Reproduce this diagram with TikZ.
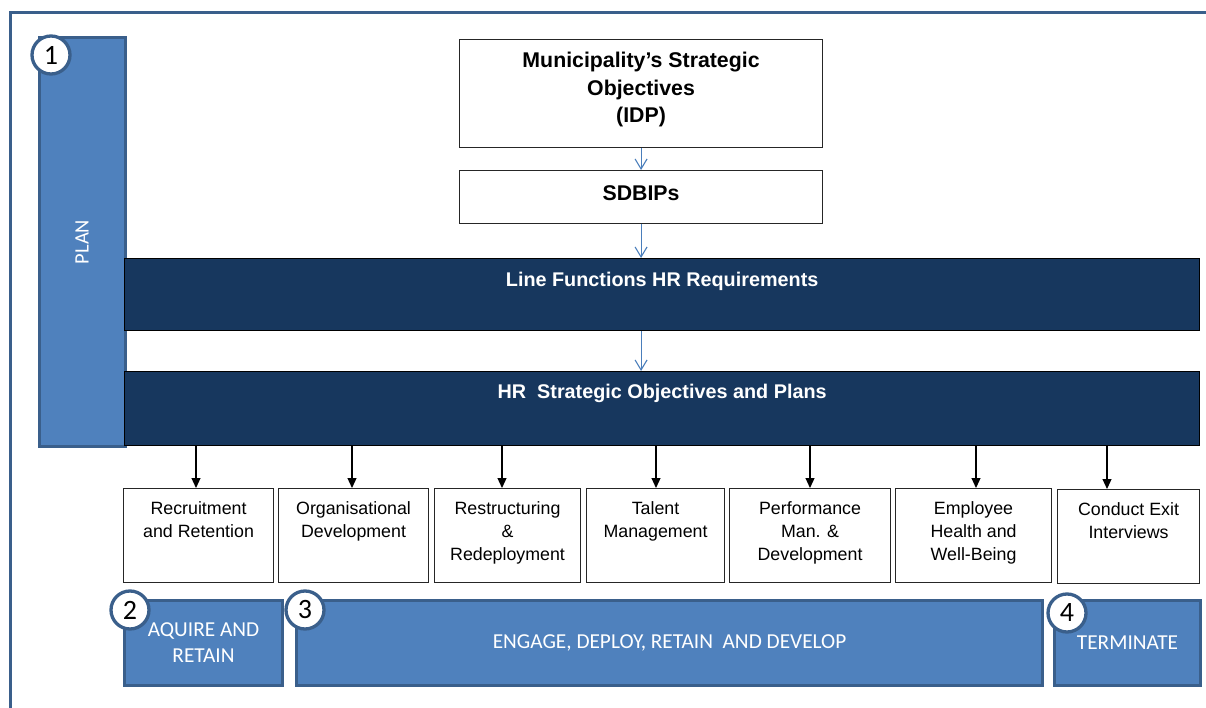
\documentclass[tikz,border=0pt]{standalone}
\usepackage{fontspec}
\newfontfamily\arialf{Liberation Sans}
\newfontfamily\calf{Carlito}
\usetikzlibrary{arrows.meta}
\definecolor{bfill}{HTML}{4F81BD}
\definecolor{bline}{HTML}{3A5F8B}
\definecolor{navy}{HTML}{17375E}
\definecolor{abl}{HTML}{4A7EBB}
\newcommand{\tbox}[4]{\parbox[c][#1][t]{#2}{\centering\vspace*{#3}#4}}
\begin{document}
\begin{tikzpicture}[x=1pt,y=-1pt,
  sbox/.style={draw=black!85, line width=1.1pt, fill=white, inner sep=0pt, anchor=north west, font=\arialf\fontsize{17.8}{23}\selectfont},
  tbx/.style={draw=black!85, line width=1.1pt, fill=white, inner sep=0pt, anchor=north west, font=\arialf\bfseries\fontsize{21.3}{27.5}\selectfont},
  bar/.style={draw=black, line width=1.3pt, fill=navy, text=white, inner sep=0pt, anchor=north west, font=\arialf\bfseries\fontsize{19.8}{26}\selectfont},
  bbox/.style={draw=bline, line width=3pt, fill=bfill, text=white, inner sep=0pt, anchor=north west, align=center, font=\calf\fontsize{21.3}{26}\selectfont},
  circ/.style={circle, draw=bline, line width=3.3pt, fill=white, minimum size=38pt, inner sep=0pt, font=\calf\fontsize{28}{28}\selectfont},
  barr/.style={draw=abl, line width=1.1pt, -{Straight Barb[length=10pt,width=12pt]}},
  karr/.style={draw=black, line width=1.2pt, -{Triangle[length=10pt,width=9pt]}}]
\useasboundingbox (0,0) rectangle (1206,708);
% frame
\draw[bline, line width=3pt] (10,730) -- (10,13) -- (1230,13);
% plan bar
\node[draw=bline, line width=3pt, fill=bfill, text=white, inner sep=0pt, rotate=90, minimum width=408pt, minimum height=86pt, font=\calf\fontsize{20.5}{24}\selectfont] (plan) at (82,242) {PLAN};
% top boxes
\node[tbx] (idp) at (459,39) {\tbox{108pt}{363pt}{12.6pt}{Municipality’s Strategic\\Objectives\\(IDP)}};
\node[tbx] (sdb) at (459,170) {\tbox{53pt}{363pt}{14.6pt}{SDBIPs}};
% bars
\node[bar] (lf) at (124,258) {\tbox{72pt}{1075pt}{13.7pt}{Line Functions HR Requirements}};
\node[bar] (hr) at (124,371) {\tbox{74pt}{1075pt}{12.7pt}{HR\ \ Strategic Objectives and Plans}};
% small boxes
\node[sbox] (b1) at (123,488) {\tbox{94pt}{150pt}{13pt}{Recruitment\\and Retention}};
\node[sbox] (b2) at (278,488) {\tbox{94pt}{150pt}{13pt}{Organisational\\Development}};
\node[sbox] (b3) at (434,488) {\tbox{94pt}{146pt}{13pt}{Restructuring\\\&\\Redeployment}};
\node[sbox] (b4) at (586,488) {\tbox{94pt}{138pt}{13pt}{Talent\\Management}};
\node[sbox] (b5) at (729,488) {\tbox{94pt}{161pt}{13pt}{Performance\\Man. \&\\Development}};
\node[sbox] (b6) at (895,488) {\tbox{94pt}{156pt}{13pt}{Employee\\Health and\\Well-Being}};
\node[sbox] (b7) at (1057,489) {\tbox{94pt}{142pt}{13pt}{Conduct Exit\\Interviews}};
% bottom blue boxes
\node[bbox, minimum width=158pt, minimum height=85pt] (ba) at (123,599) {AQUIRE AND\\RETAIN};
\node[bbox, minimum width=746pt, minimum height=85pt] (bb) at (295,599) {ENGAGE, DEPLOY, RETAIN\ \ AND DEVELOP};
\node[bbox, minimum width=146pt, minimum height=85pt] (bc) at (1053,599) {TERMINATE};
% circles
\node[circ] (c1) at (51,55) {1};
\node[circ] (c2) at (130,610) {2};
\node[circ] (c3) at (305,610) {3};
\node[circ] (c4) at (1067,613) {4};
% blue arrows
\draw[barr] (idp.south) -- (sdb.north);
\draw[barr] (sdb.south) -- (sdb.south |- lf.north);
\draw[barr] (lf.south -| sdb.south) -- (hr.north -| sdb.south);
% black arrows
\coordinate (x1) at (196,0);
\coordinate (x2) at (352,0);
\coordinate (x3) at (502,0);
\coordinate (x4) at (656,0);
\coordinate (x5) at (810,0);
\coordinate (x6) at (976,0);
\coordinate (x7) at (1107,0);
\draw[karr] (hr.south -| x1) -- (b1.north -| x1);
\draw[karr] (hr.south -| x2) -- (b2.north -| x2);
\draw[karr] (hr.south -| x3) -- (b3.north -| x3);
\draw[karr] (hr.south -| x4) -- (b4.north -| x4);
\draw[karr] (hr.south -| x5) -- (b5.north -| x5);
\draw[karr] (hr.south -| x6) -- (b6.north -| x6);
\draw[karr] (hr.south -| x7) -- (b7.north -| x7);
\end{tikzpicture}
\end{document}
